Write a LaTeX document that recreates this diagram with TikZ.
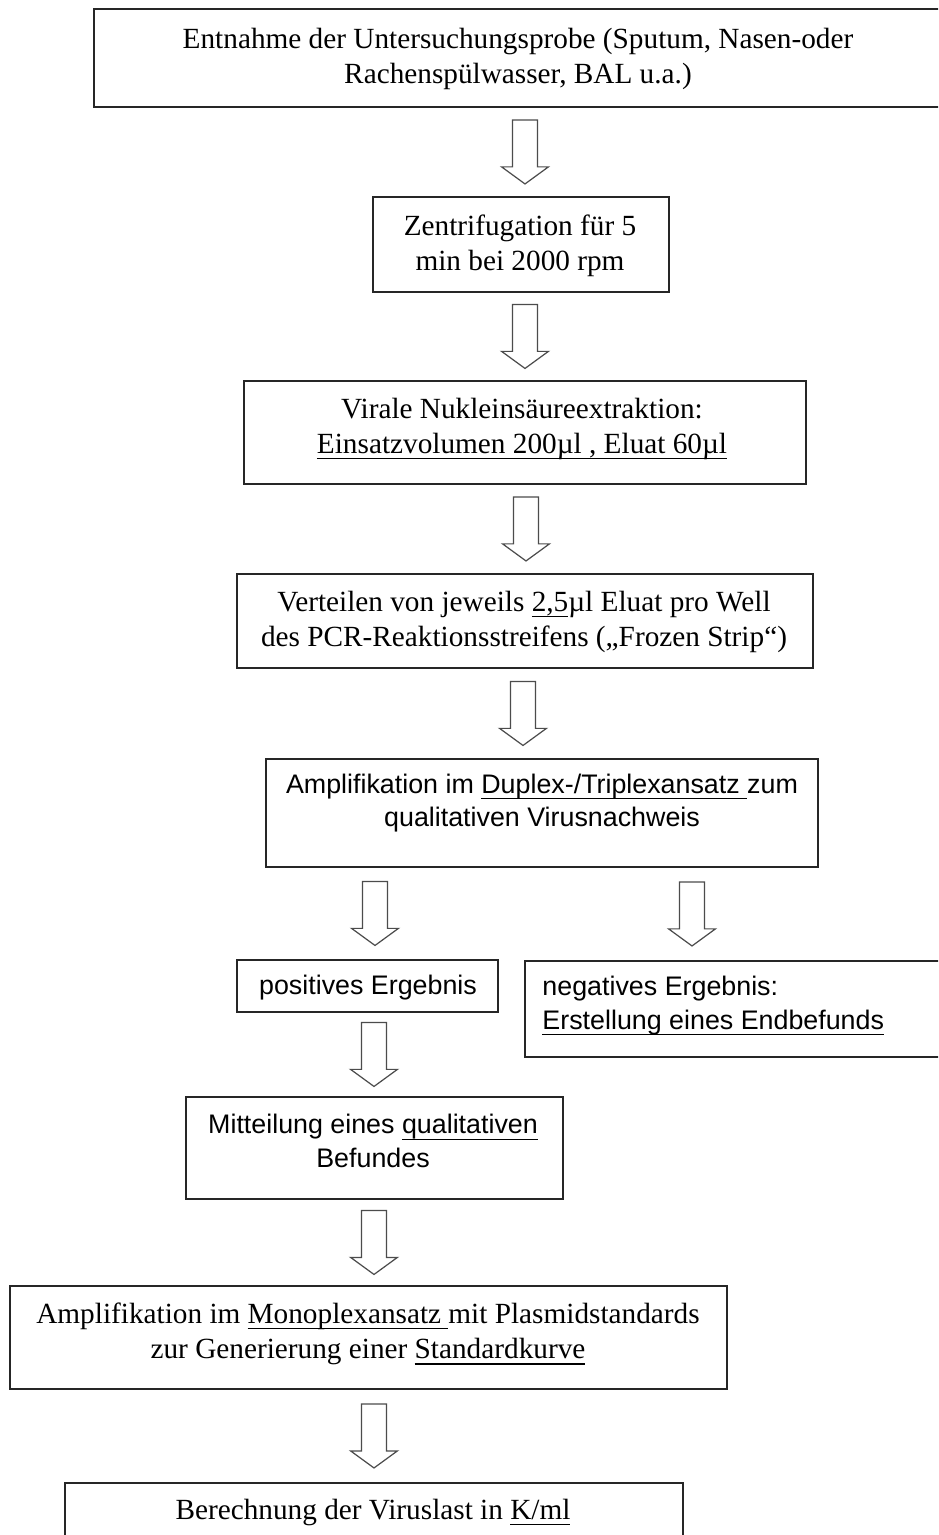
\documentclass[tikz,border=0pt]{standalone}
\usepackage{fontspec}
\setmainfont{Liberation Serif}
\setsansfont{Liberation Sans}
\usetikzlibrary{calc, fit}
\newcommand{\ulmark}[1]{\setbox0\hbox{#1}\rlap{\rule[-2.4pt]{\wd0}{0.45pt}}\box0}

\begin{document}
\begin{tikzpicture}[x=0.41pt, y=-0.41pt,
  stepbox/.style={draw=black!85, line width=0.8pt, inner sep=0pt},
  sertext/.style={font=\fontsize{12}{14.4}\selectfont, align=center, inner sep=0pt},
  sanstext/.style={font=\sffamily\fontsize{11}{13.8}\selectfont, align=center, inner sep=0pt},
  blockarrow/.style={draw=black!70, fill=white, line width=0.5pt, to path={
    let \p1=(\tikztostart), \p2=(\tikztotarget) in
    (\x1-5.1pt,{0.5*\y1+0.5*\y2+13.1pt}) -- (\x1+5.1pt,{0.5*\y1+0.5*\y2+13.1pt})
    -- (\x1+5.1pt,{0.5*\y1+0.5*\y2-6.1pt}) -- (\x1+9.6pt,{0.5*\y1+0.5*\y2-6.1pt})
    -- (\x1,{0.5*\y1+0.5*\y2-13.1pt}) -- (\x1-9.6pt,{0.5*\y1+0.5*\y2-6.1pt})
    -- (\x1-5.1pt,{0.5*\y1+0.5*\y2-6.1pt}) -- cycle}}]
\clip (0,0) rectangle (938,1535);
\fill[white] (0,0) rectangle (938,1535);

\node[stepbox, fit={(94,9) (960,107)}] (entnahme) {};
\node[sertext] (entnahme-t) at (518,59) {Entnahme der Untersuchungsprobe (Sputum, Nasen-oder\\Rachenspülwasser, BAL u.a.)};

\node[stepbox, fit={(373,197) (669,292)}] (zentr) {};
\node[sertext] (zentr-t) at (520,246) {Zentrifugation für 5\\min bei 2000 rpm};

\node[stepbox, fit={(244,381) (806,484)}] (extrakt) {};
\node[sertext] (extrakt-t) at (522,429) {Virale Nukleinsäureextraktion:\\\ulmark{Einsatzvolumen 200µl , Eluat 60µl}};

\node[stepbox, fit={(237,574) (813,668)}] (verteil) {};
\node[sertext] (verteil-t) at (524,622) {Verteilen von jeweils \ulmark{2,5}µl Eluat pro Well\\des PCR-Reaktionsstreifens („Frozen Strip“)};

\node[stepbox, fit={(266,759) (818,867)}] (duplex) {};
\node[sanstext] (duplex-t) at (542,803) {Amplifikation im \ulmark{Duplex-/Triplexansatz\ }zum\\qualitativen Virusnachweis};

\node[stepbox, fit={(237,960) (498,1012)}] (positiv) {};
\node[sanstext] (positiv-t) at (368,988) {positives Ergebnis};

\node[stepbox, fit={(525,961) (960,1057)}] (negativ) {};
\node[sanstext, align=left, anchor=west] (negativ-t) at (542,1006) {negatives Ergebnis:\\\ulmark{Erstellung eines Endbefunds}};

\node[stepbox, fit={(186,1097) (563,1199)}] (mitteil) {};
\node[sanstext] (mitteil-t) at (373,1141) {Mitteilung eines \ulmark{qualitativen}\\Befundes};

\node[stepbox, fit={(10,1286) (727,1389)}] (monoplex) {};
\node[sertext] (monoplex-t) at (368,1334) {Amplifikation im \ulmark{Monoplexansatz\ }mit Plasmidstandards\\zur Generierung einer \ulmark{Standardkurve}};

\node[stepbox, fit={(65,1483) (683,1580)}] (viruslast) {};
\node[sertext] (viruslast-t) at (373,1512) {Berechnung der Viruslast in \ulmark{K/ml}};

\draw[blockarrow] (525,0 |- entnahme.south) to (525,0 |- zentr.north);
\draw[blockarrow] (525,0 |- zentr.south) to (525,0 |- extrakt.north);
\draw[blockarrow] (526,0 |- extrakt.south) to (526,0 |- verteil.north);
\draw[blockarrow] (523,0 |- verteil.south) to (523,0 |- duplex.north);
\draw[blockarrow] (375,0 |- duplex.south) to (375,0 |- positiv.north);
\draw[blockarrow] (692,0 |- duplex.south) to (692,0 |- negativ.north);
\draw[blockarrow] (374,0 |- positiv.south) to (374,0 |- mitteil.north);
\draw[blockarrow] (374,0 |- mitteil.south) to (374,0 |- monoplex.north);
\draw[blockarrow] (374,0 |- monoplex.south) to (374,0 |- viruslast.north);
\end{tikzpicture}
\end{document}
